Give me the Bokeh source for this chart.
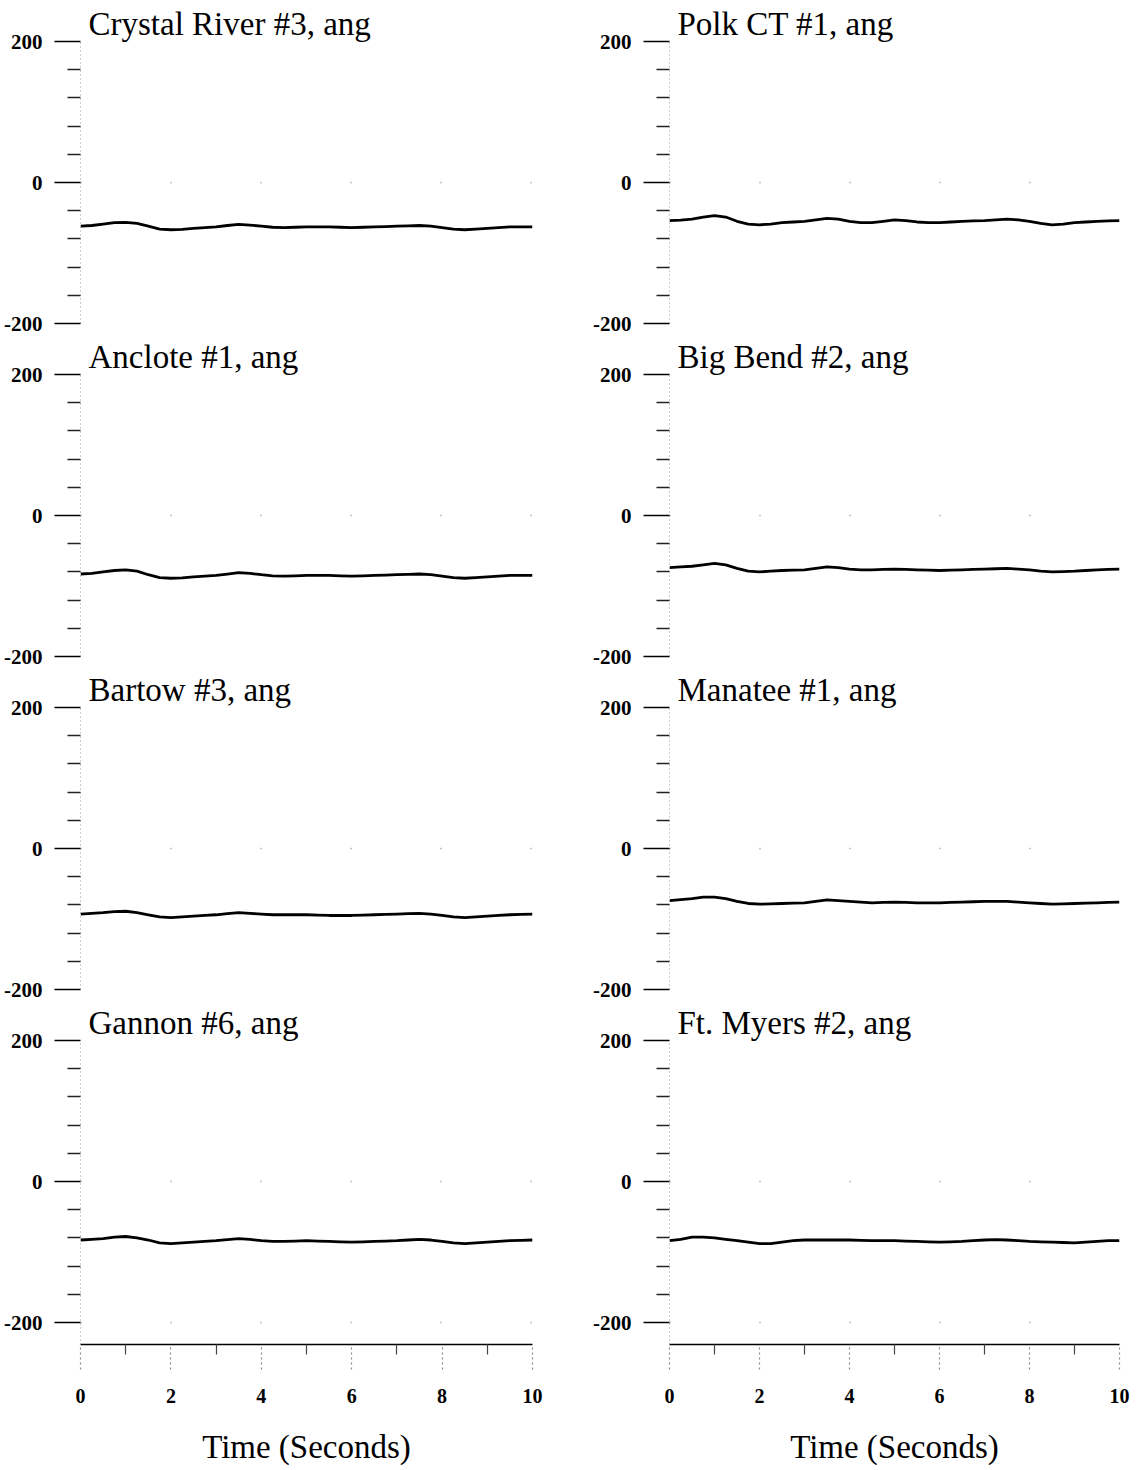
from bokeh.plotting import figure
from bokeh.layouts import column, row
from bokeh.models import FixedTicker, Range1d, PrintfTickFormatter
from bokeh.embed import file_html
from bokeh.resources import INLINE

# ---------------- data ----------------
time_s = [0.0, 0.25, 0.5, 0.75, 1.0, 1.25, 1.5, 1.75, 2.0, 2.25,
          2.5, 2.75, 3.0, 3.25, 3.5, 3.75, 4.0, 4.25, 4.5, 4.75,
          5.0, 5.25, 5.5, 5.75, 6.0, 6.25, 6.5, 6.75, 7.0, 7.25,
          7.5, 7.75, 8.0, 8.25, 8.5, 8.75, 9.0, 9.25, 9.5, 9.75, 10.0]

crystal_river_3 = [-62, -61, -59, -57, -56.5, -58, -62, -66, -67, -66.5,
                   -65, -64, -63, -61, -59.5, -60.5, -62, -63.5, -64, -63.5,
                   -63, -63, -63, -63.5, -64, -63.5, -63, -62.5, -62, -61.5,
                   -61, -62, -64, -66, -67, -66, -65, -64, -63, -63, -63]
polk_ct_1 = [-54, -53.5, -52, -49, -47, -49, -55, -59, -60, -59,
             -57, -56, -55, -53, -51, -52, -55, -57, -57, -55,
             -53, -54, -56, -57, -57, -56, -55, -54.5, -54, -53,
             -52, -53, -55, -58, -60, -59, -57, -56, -55, -54.5, -54]
anclote_1 = [-83, -82, -80, -78, -77, -79, -84, -88, -89, -88.5,
             -87, -86, -85, -83, -81, -82, -84, -85.5, -86, -85.5,
             -85, -85, -85, -85.5, -86, -85.5, -85, -84.5, -84, -83.5,
             -83, -84, -86, -88, -89, -88, -87, -86, -85, -85, -85]
big_bend_2 = [-74, -73, -72, -70, -68, -70, -75, -79, -80, -79,
              -78, -77.5, -77, -75, -73, -74, -76, -77, -77, -76.5,
              -76, -76.5, -77, -77.5, -78, -77.5, -77, -76.5, -76, -75.5,
              -75, -76, -77, -79, -80, -79.5, -79, -78, -77, -76.5, -76]
bartow_3 = [-93, -92, -91, -89.5, -89, -91, -94, -97, -98, -97,
            -96, -95, -94, -92.5, -91, -92, -93, -94, -94, -94,
            -94, -94.5, -95, -95, -95, -94.5, -94, -93.5, -93, -92.5,
            -92, -93, -95, -97, -98, -97, -96, -95, -94, -93.5, -93]
manatee_1 = [-74, -72.5, -71, -69, -69, -71, -75, -78, -79, -78.5,
             -78, -77.5, -77, -75, -73, -74, -75, -76, -77, -76.5,
             -76, -76.5, -77, -77, -77, -76.5, -76, -75.5, -75, -75,
             -75, -76, -77, -78, -79, -78.5, -78, -77.5, -77, -76.5, -76]
gannon_6 = [-83, -82, -81, -79, -78, -80, -83, -87, -88, -87,
            -86, -85, -84, -82.5, -81, -82, -84, -85, -85, -84.5,
            -84, -84.5, -85, -85.5, -86, -85.5, -85, -84.5, -84, -83,
            -82, -83, -85, -87, -88, -87, -86, -85, -84, -83.5, -83]
ft_myers_2 = [-84, -82, -79, -79, -80, -82, -84, -86, -88, -88,
              -86, -84, -83, -83, -83, -83, -83, -83.5, -84, -84,
              -84, -84.5, -85, -85.5, -86, -85.5, -85, -84, -83, -82.5,
              -83, -84, -85, -85.5, -86, -86.5, -87, -86, -85, -84, -84]

panel_titles = ["Crystal River #3, ang", "Polk CT #1, ang",
                "Anclote #1, ang", "Big Bend #2, ang",
                "Bartow #3, ang", "Manatee #1, ang",
                "Gannon #6, ang", "Ft. Myers #2, ang"]
panel_series = [crystal_river_3, polk_ct_1, anclote_1, big_bend_2,
                bartow_3, manatee_1, gannon_6, ft_myers_2]

y_major = [-200, 0, 200]
y_minor = [-160, -120, -80, -40, 40, 80, 120, 160]
x_major = [0, 2, 4, 6, 8, 10]
x_minor = [1, 3, 5, 7, 9]
x_label = "Time (Seconds)"

SERIF = "Liberation Serif"
FRAME_H = 282


def make_panel(idx):
    r, c = divmod(idx, 2)
    bottom = (r == 3)
    first = (r == 0)
    px_per_unit = FRAME_H / 400.0
    extra = 22 if bottom else 0
    y_lo = -200 - extra / px_per_unit
    p = figure(
        output_backend="svg", toolbar_location=None,
        frame_width=452 if c == 0 else 450,
        frame_height=FRAME_H + extra,
        x_range=Range1d(0, 10), y_range=Range1d(y_lo, 200),
        min_border_left=80 if c == 0 else 97,
        min_border_right=40 if c == 0 else 12,
        min_border_top=41 if first else 38,
        min_border_bottom=118 if bottom else 13,
        title=panel_titles[idx],
    )
    p.outline_line_color = None
    p.background_fill_color = "white"
    p.border_fill_color = "white"

    # title
    p.title.text_font = SERIF
    p.title.text_font_size = "33px"
    p.title.text_font_style = "normal"
    p.title.text_color = "black"
    p.title.align = "left"
    p.title.offset = 8
    p.title.standoff = 0

    # y axis
    ya = p.yaxis[0]
    ya.ticker = FixedTicker(ticks=y_major, minor_ticks=y_minor)
    ya.formatter = PrintfTickFormatter(format="%d")
    ya.axis_line_color = "#9a9a9a"
    ya.axis_line_dash = "1 3"
    ya.major_tick_out = 26
    ya.major_tick_in = 0
    ya.major_tick_line_color = "black"
    ya.major_tick_line_width = 1.5
    ya.minor_tick_out = 13
    ya.minor_tick_in = 0
    ya.minor_tick_line_color = "#222222"
    ya.minor_tick_line_width = 1.5
    ya.major_label_text_font = SERIF
    ya.major_label_text_font_size = "21px"
    ya.major_label_text_font_style = "bold"
    ya.major_label_text_color = "black"
    ya.major_label_standoff = 12

    # grid: faint dots at the grid intersections
    p.xgrid.grid_line_color = None
    p.ygrid.grid_line_color = "#8a8a8a"
    p.ygrid.grid_line_dash = "1 89"
    p.ygrid.grid_line_width = 1.5

    # x axis
    xa = p.xaxis[0]
    if bottom:
        xa.ticker = FixedTicker(ticks=x_major, minor_ticks=x_minor)
        xa.axis_line_color = "black"
        xa.axis_line_width = 1.5
        xa.major_tick_out = 25
        xa.major_tick_in = 0
        xa.major_tick_line_color = "#8a8a8a"
        xa.major_tick_line_dash = "2 3"
        xa.major_tick_line_width = 1.2
        xa.minor_tick_out = 10
        xa.minor_tick_in = 0
        xa.minor_tick_line_color = "#444444"
        xa.minor_tick_line_width = 1.2
        xa.major_label_text_font = SERIF
        xa.major_label_text_font_size = "20px"
        xa.major_label_text_font_style = "bold"
        xa.major_label_text_color = "black"
        xa.major_label_standoff = 19
        xa.axis_label = x_label
        xa.axis_label_text_font = SERIF
        xa.axis_label_text_font_size = "33px"
        xa.axis_label_text_font_style = "normal"
        xa.axis_label_text_color = "black"
        xa.axis_label_standoff = 23
    else:
        xa.visible = False

    p.line(time_s, panel_series[idx], line_color="black", line_width=2.8,
           line_join="round")
    return p


panels = [make_panel(i) for i in range(8)]
layout = column(*[row(panels[2 * k], panels[2 * k + 1]) for k in range(4)])

open("out.html", "w").write(file_html(layout, INLINE))
